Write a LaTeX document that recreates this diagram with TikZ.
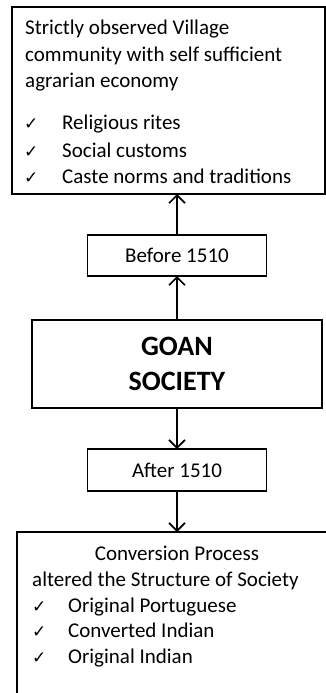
\documentclass[tikz,border=0pt]{standalone}
\usepackage{fontspec}
\setmainfont{Carlito}
\newfontfamily\tickfont{DejaVu Sans}
\usetikzlibrary{positioning,arrows.meta}

\begin{document}
\begin{tikzpicture}[x=1pt, y=-1pt,
	box/.style={draw=black, line width=1.6pt, inner sep=0pt, outer sep=0pt},
	txt/.style={anchor=base west, inner sep=0pt, font=\fontsize{21}{26}\selectfont},
	tick/.style={anchor=base west, inner sep=0pt, font=\tickfont\fontsize{17}{26}\selectfont},
	arr/.style={line width=1.6pt, -{Straight Barb[length=8pt, width=16pt]}}]
	\useasboundingbox (0,0) rectangle (326,693);
	% boxes
	\node [box, anchor=north west, minimum width=313pt, minimum height=187pt] (village) at (12,7) {};
	\node [box, minimum width=179pt, minimum height=41pt, font=\fontsize{21}{26}\selectfont] (before) at (177,255.5) {Before 1510};
	\node [box, minimum width=290pt, minimum height=88pt, align=center, font=\bfseries\fontsize{28}{35}\selectfont] (goan) at (177,364) {GOAN\\SOCIETY};
	\node [box, minimum width=179pt, minimum height=42pt, font=\fontsize{21}{26}\selectfont] (after) at (177,470) {After 1510};
	\node [box, anchor=north west, minimum width=330pt, minimum height=200pt] (convert) at (17,532) {};
	% text before 1510
	\node [txt] (v1) at (25,35) {Strictly observed Village};
	\node [txt] (v2) at (25,62) {community with self sufficient};
	\node [txt] (v3) at (25,88) {agrarian economy};
	\node [tick] (c1) at (24,129) {✓};
	\node [txt] (r1) at (62,129) {Religious rites};
	\node [tick] (c2) at (24,157) {✓};
	\node [txt] (r2) at (62,157) {Social customs};
	\node [tick] (c3) at (24,183) {✓};
	\node [txt] (r3) at (62,183) {Caste norms and traditions};
	% text after 1510
	\node [txt, anchor=base] (p1) at (177,560) {Conversion Process};
	\node [txt] (p2) at (32,586) {altered the Structure of Society};
	\node [tick] (c4) at (32,612) {✓};
	\node [txt] (s1) at (68,612) {Original Portuguese};
	\node [tick] (c5) at (32,637) {✓};
	\node [txt] (s2) at (68,637) {Converted Indian};
	\node [tick] (c6) at (32,663) {✓};
	\node [txt] (s3) at (68,663) {Original Indian};
	% arrows
	\draw [arr] (before.north) -- (before.north |- village.south);
	\draw [arr] (goan.north) -- (goan.north |- before.south);
	\draw [arr] (goan.south) -- (goan.south |- after.north);
	\draw [arr] (after.south) -- (after.south |- convert.north);
\end{tikzpicture}
\end{document}
